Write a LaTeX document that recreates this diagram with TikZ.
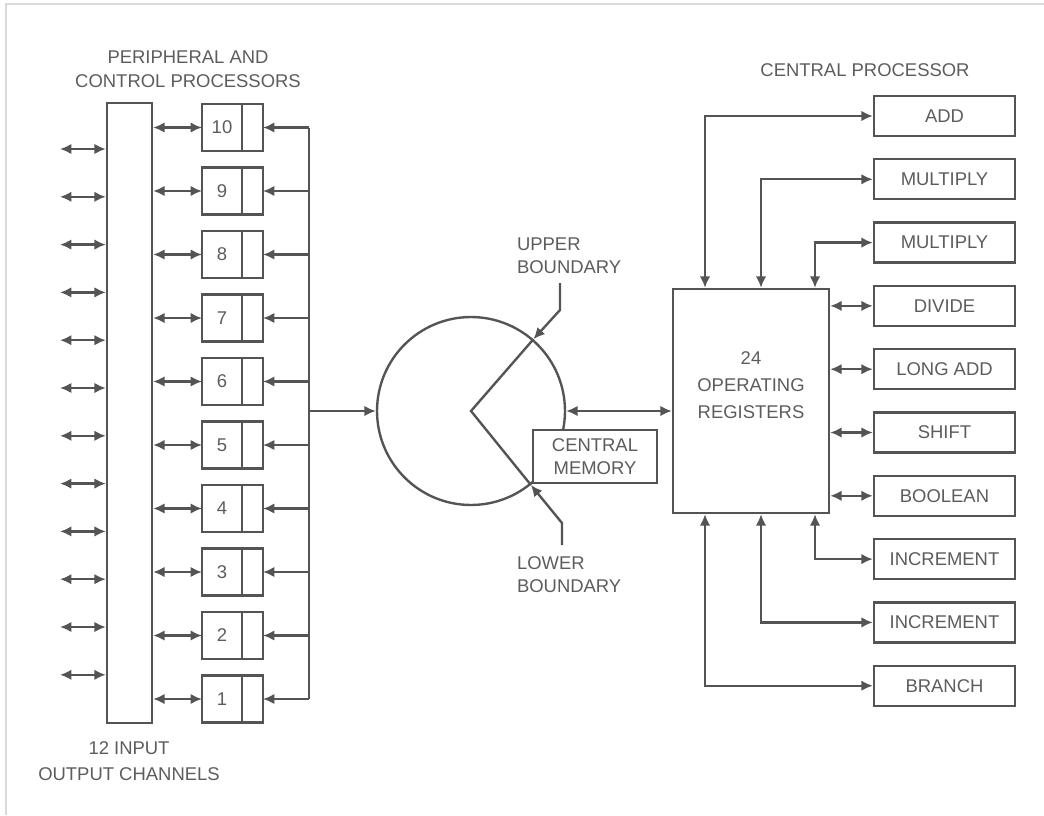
\documentclass[tikz,border=0pt]{standalone}
\usepackage{fontspec}
\setmainfont{Liberation Sans}
\usetikzlibrary{arrows.meta,positioning}
\definecolor{linegray}{gray}{0.33}
\definecolor{textgray}{gray}{0.36}
\tikzset{
	dbl/.style={{Latex[length=6.5pt,width=6pt]}-{Latex[length=6.5pt,width=6pt]}},
	arr/.style={-{Latex[length=6.5pt,width=6pt]}},
	cell/.style={draw, inner sep=0pt, outer sep=0pt, minimum height=0.94cm},
	unitbox/.style={draw, inner sep=0pt, minimum width=2.82cm, minimum height=0.8cm},
}
\begin{document}
\begin{tikzpicture}[x=0.02cm, y=-0.02cm, line width=1.35pt, color=linegray, text=textgray,
	font=\fontsize{10.5}{13}\selectfont]
	\useasboundingbox (0,0) rectangle (1044,815);
	\draw[black!15, line width=0.8pt] (6,815) -- (6,4) -- (1044,4);
	
	% peripheral side
	\node[align=center] (pcp) at (188,69) {PERIPHERAL AND\\[0.5pt]CONTROL PROCESSORS};
	\node[draw, minimum width=0.9cm, minimum height=12.4cm, inner sep=0pt] (bus) at (129.5,413) {};
	\coordinate (rbus) at (309,0);
	\foreach \c in {0,...,11}{
		\pgfmathsetmacro{\cy}{149+\c*47.8}
		\coordinate (ch\c) at (60,\cy);
		\draw[dbl] (ch\c) -- (ch\c -| bus.west);
	}
	\foreach \n in {1,...,10}{
		\pgfmathsetmacro{\py}{699-(\n-1)*63.5}
		\node[cell, minimum width=0.8cm] (pn\n) at (222,\py) {\n};
		\node[cell, minimum width=0.42cm, right=0pt of pn\n] (pr\n) {};
		\draw[dbl] (pn\n.west -| bus.east) -- (pn\n.west);
		\draw[arr] (pr\n.east -| rbus) -- (pr\n.east);
	}
	\draw (pr10.east -| rbus) -- (pr1.east -| rbus);
	\node[align=center] (ioc) at (129,761) {12 INPUT\\[2pt]OUTPUT CHANNELS};
	
	% central memory
	\node[draw, circle, minimum size=3.76cm, inner sep=0pt] (mem) at (471,411) {};
	\draw[arr] (mem.west -| rbus) -- (mem.west);
	\node[draw, fill=white, minimum width=2.48cm, minimum height=1.06cm, align=center, inner sep=0pt] (cmem) at (595,456.5) {CENTRAL\\MEMORY};
	\coordinate (ub1) at (560,283);
	\coordinate (ub2) at (560,310);
	\coordinate (lb1) at (562,545);
	\coordinate (lb2) at (562,523);
	\draw[arr] (ub1) -- (ub2) -- (mem.49);
	\draw (mem.49) -- (mem.center) -- (mem.-51);
	\draw[arr] (lb1) -- (lb2) -- (mem.-51);
	\node[anchor=west, align=left] (upper) at (510,256) {UPPER\\BOUNDARY};
	\node[anchor=west, align=left] (lower) at (510,575) {LOWER\\BOUNDARY};
	
	% central processor
	\node (cpt) at (865,70) {CENTRAL PROCESSOR};
	\node[draw, minimum width=3.12cm, minimum height=4.48cm, inner sep=0pt] (regs) at (751,401) {};
	\node[align=center] (regtxt) at (751,385) {24\\[2.4pt]OPERATING\\[2.4pt]REGISTERS};
	\draw[dbl] (mem.east) -- (mem.east -| regs.west);
	\foreach \u/\t [count=\k from 0] in {uadd/ADD, umul/MULTIPLY, umulb/MULTIPLY, udiv/DIVIDE, ulong/LONG ADD, ushift/SHIFT, ubool/BOOLEAN, uinc/INCREMENT, uincb/INCREMENT, ubranch/BRANCH}{
		\pgfmathsetmacro{\uy}{116+\k*63.3}
		\node[unitbox] (\u) at (944.5,\uy) {\t};
	}
	\coordinate (colA) at (705,0);
	\coordinate (colB) at (761,0);
	\coordinate (colC) at (815,0);
	\draw[dbl] (regs.north -| colA) |- (uadd.west);
	\draw[dbl] (regs.north -| colB) |- (umul.west);
	\draw[dbl] (regs.north -| colC) |- (umulb.west);
	\foreach \u in {udiv,ulong,ushift,ubool}
		\draw[dbl] (\u.west -| regs.east) -- (\u.west);
	\draw[dbl] (regs.south -| colC) |- (uinc.west);
	\draw[dbl] (regs.south -| colB) |- (uincb.west);
	\draw[dbl] (regs.south -| colA) |- (ubranch.west);
	
\end{tikzpicture}
\end{document}
